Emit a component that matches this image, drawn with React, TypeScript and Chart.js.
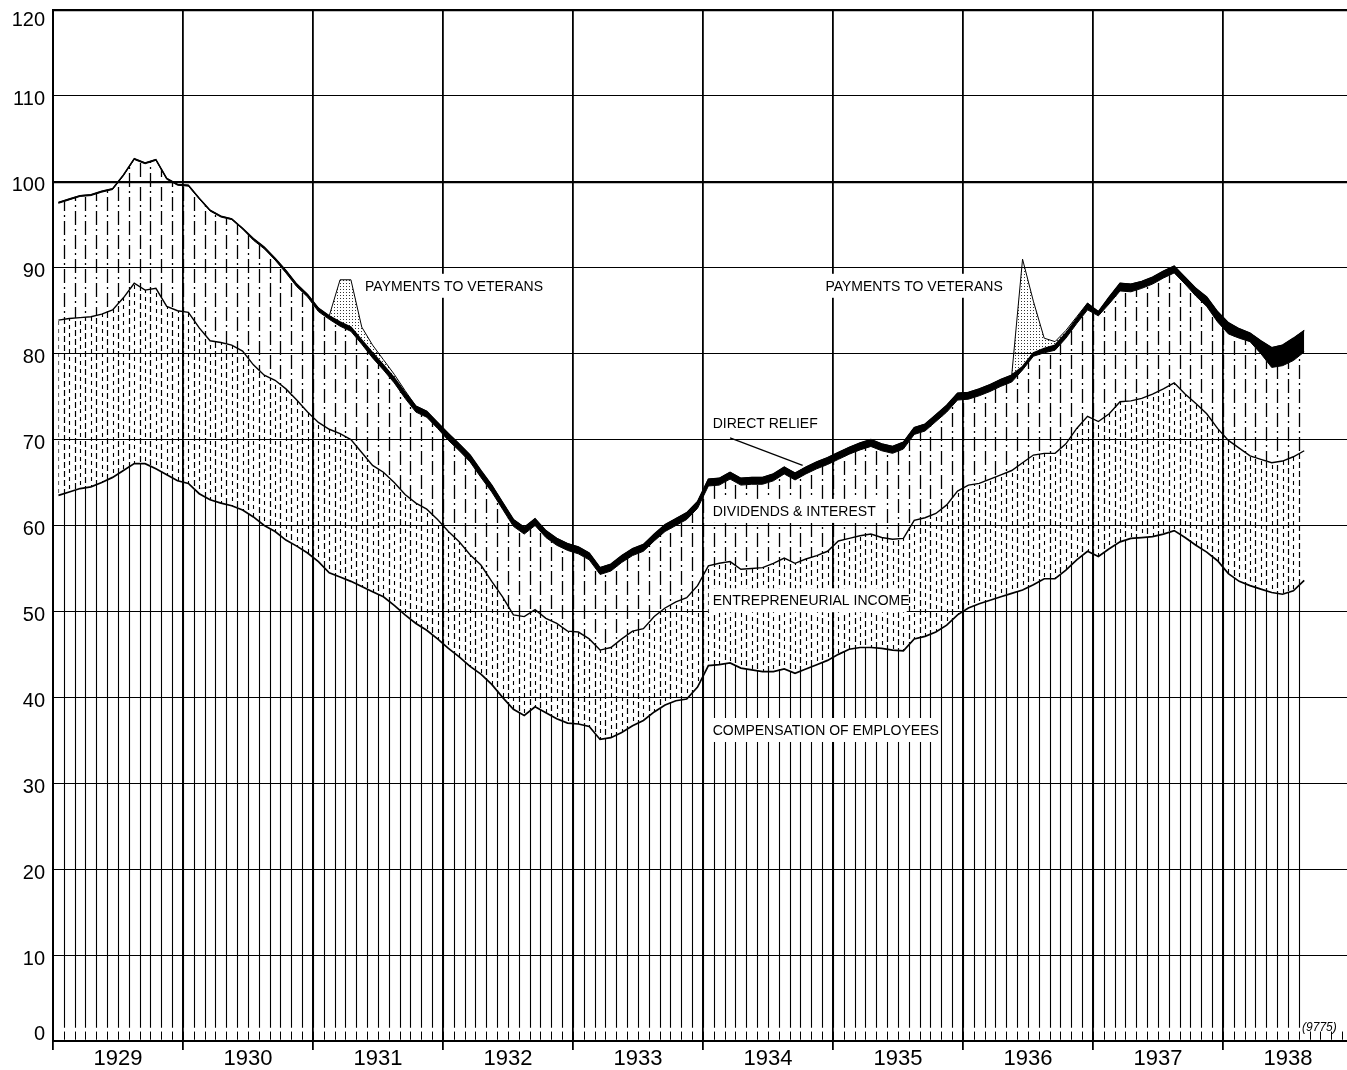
import React, { useEffect, useRef } from "react";
import { Chart, registerables } from "chart.js";

Chart.register(...registerables);

// Monthly values, Jan 1929 .. Aug 1938 (116 months)
const years = ["1929", "1930", "1931", "1932", "1933", "1934", "1935", "1936", "1937", "1938"];
const yTicks = [0, 10, 20, 30, 40, 50, 60, 70, 80, 90, 100, 110, 120];

const compensation = [
  63.5, 63.9, 64.3, 64.5, 65.0, 65.6, 66.4, 67.2, 67.2, 66.6, 65.9, 65.2,
  64.9, 63.7, 63.0, 62.6, 62.3, 61.8, 61.0, 60.0, 59.3, 58.3, 57.6, 56.8,
  55.8, 54.5, 54.0, 53.5, 52.9, 52.3, 51.7, 50.7, 49.6, 48.6, 47.8, 46.8,
  45.7, 44.7, 43.6, 42.7, 41.5, 40.0, 38.6, 37.9, 38.9, 38.2, 37.5, 37.0,
  36.9, 36.6, 35.1, 35.3, 35.9, 36.7, 37.3, 38.3, 39.1, 39.6, 39.8, 41.2,
  43.7, 43.8, 44.0, 43.4, 43.2, 43.0, 43.0, 43.3, 42.8, 43.3, 43.8, 44.3,
  45.0, 45.6, 45.8, 45.8, 45.7, 45.5, 45.4, 46.8, 47.1, 47.6, 48.4, 49.6,
  50.4, 50.9, 51.3, 51.7, 52.1, 52.5, 53.1, 53.8, 53.8, 54.8, 56.0, 57.0,
  56.4, 57.3, 58.1, 58.5, 58.6, 58.7, 59.0, 59.4, 58.6, 57.7, 56.9, 55.9,
  54.4, 53.5, 53.0, 52.6, 52.2, 52.0, 52.4, 53.6,
];

const entrepreneurial = [
  20.4, 20.2, 19.9, 19.8, 19.6, 19.5, 20.1, 21.0, 20.2, 21.0, 19.6, 19.8,
  19.9, 19.3, 18.5, 18.7, 18.7, 18.5, 17.7, 17.5, 17.6, 17.6, 17.0, 16.4,
  16.2, 16.7, 16.7, 16.5, 15.6, 14.7, 14.5, 14.3, 14.0, 14.0, 14.1, 13.9,
  13.6, 13.4, 13.0, 12.7, 12.0, 11.7, 11.0, 11.5, 11.3, 11.0, 11.1, 10.7,
  10.7, 10.2, 10.4, 10.5, 10.9, 11.0, 10.7, 11.1, 11.3, 11.5, 11.8, 11.8,
  11.6, 11.8, 11.8, 11.5, 11.8, 12.1, 12.6, 12.9, 12.8, 12.8, 12.7, 12.7,
  13.2, 12.9, 13.0, 13.2, 12.9, 12.9, 13.1, 13.8, 13.8, 13.8, 14.0, 14.4,
  14.3, 14.0, 14.1, 14.2, 14.3, 14.8, 15.1, 14.6, 14.6, 14.7, 15.3, 15.7,
  15.7, 15.7, 16.3, 16.0, 16.2, 16.6, 16.9, 17.2, 16.7, 16.5, 16.1, 15.4,
  15.5, 15.5, 15.1, 15.1, 15.1, 15.5, 15.6, 15.1,
];

const dividendsInterest = [
  13.6, 13.8, 14.1, 14.1, 14.2, 14.0, 14.2, 14.4, 14.7, 14.9, 14.8, 14.6,
  14.7, 15.0, 15.1, 14.6, 14.6, 14.2, 14.5, 14.7, 14.0, 13.5, 13.2, 13.4,
  12.9, 12.8, 12.5, 12.6, 12.6, 12.5, 11.9, 11.6, 11.2, 10.6, 10.7, 10.6,
  10.6, 10.6, 10.8, 10.2, 10.4, 10.2, 10.3, 9.6, 9.8, 9.4, 9.1, 9.4,
  9.1, 9.2, 8.8, 8.9, 8.9, 8.8, 9.0, 8.8, 8.9, 8.9, 9.1, 9.0,
  9.3, 9.1, 9.6, 9.8, 9.8, 9.7, 9.6, 9.8, 9.7, 9.9, 10.1, 10.1,
  9.5, 9.8, 10.0, 10.2, 10.1, 10.0, 10.4, 10.0, 10.1, 10.7, 10.8, 10.6,
  10.0, 10.2, 10.2, 10.3, 10.3, 10.8, 11.5, 11.7, 12.0, 12.3, 12.2, 12.4,
  12.3, 12.8, 12.9, 12.7, 12.8, 12.8, 12.9, 12.8, 12.8, 12.5, 12.5, 12.4,
  12.4, 12.8, 13.3, 12.3, 11.1, 11.1, 11.2, 11.5,
];

const directRelief = [
  0.1, 0.1, 0.1, 0.1, 0.1, 0.1, 0.1, 0.1, 0.1, 0.1, 0.1, 0.1,
  0.1, 0.1, 0.1, 0.1, 0.1, 0.1, 0.2, 0.2, 0.2, 0.3, 0.3, 0.3,
  0.4, 0.4, 0.5, 0.5, 0.5, 0.6, 0.6, 0.6, 0.7, 0.7, 0.7, 0.7,
  0.8, 0.8, 0.8, 0.8, 0.8, 0.8, 0.8, 0.8, 0.8, 0.8, 0.8, 0.8,
  0.8, 0.8, 0.8, 0.8, 0.8, 0.8, 0.8, 0.8, 0.8, 0.8, 0.8, 0.8,
  0.8, 0.8, 0.8, 0.8, 0.8, 0.8, 0.8, 0.8, 0.8, 0.8, 0.8, 0.8,
  0.8, 0.8, 0.8, 0.8, 0.8, 0.8, 0.8, 0.8, 0.8, 0.8, 0.8, 0.8,
  0.8, 0.8, 0.8, 0.8, 0.8, 0.4, 0.4, 0.5, 0.6, 0.6, 0.6, 0.7,
  0.5, 0.8, 0.9, 0.9, 0.8, 0.8, 0.8, 0.8, 0.8, 0.9, 1.1, 1.2,
  1.3, 1.1, 1.0, 1.5, 2.3, 2.4, 2.6, 2.5,
];

const veteransPayments = [
  0, 0, 0, 0, 0, 0, 0, 0, 0, 0, 0, 0,
  0, 0, 0, 0, 0, 0, 0, 0, 0, 0, 0, 0,
  0, 0, 4.9, 5.5, 1.5, 0.9, 0.6, 0.4, 0.2, 0, 0, 0,
  0, 0, 0, 0, 0, 0, 0, 0, 0, 0, 0, 0,
  0, 0, 0, 0, 0, 0, 0, 0, 0, 0, 0, 0,
  0, 0, 0, 0, 0, 0, 0, 0, 0, 0, 0, 0,
  0, 0, 0, 0, 0, 0, 0, 0, 0, 0, 0, 0,
  0, 0, 0, 0, 0, 12.5, 6.0, 1.2, 0.4, 0.3, 0.2, 0.1,
  0, 0, 0, 0, 0, 0, 0, 0, 0, 0, 0, 0,
  0, 0, 0, 0, 0, 0, 0, 0,
];

const FONT = '"Liberation Sans", "DejaVu Sans", sans-serif';

const notes = [
  { text: "PAYMENTS TO VETERANS", month: 28.8, value: 87.9, width: 178 },
  { text: "PAYMENTS TO VETERANS", month: 71.3, value: 87.9, width: 177 },
  { text: "DIRECT RELIEF", month: 60.9, value: 71.9, width: 103 },
  { text: "DIVIDENDS & INTEREST", month: 60.9, value: 61.7, width: 163 },
  { text: "ENTREPRENEURIAL INCOME", month: 60.9, value: 51.3, width: 190 },
  { text: "COMPENSATION OF EMPLOYEES", month: 60.9, value: 36.2, width: 220 },
];

function cumulate(series: number[][]): number[][] {
  const out: number[][] = [];
  series.forEach((s, k) => {
    out.push(s.map((v, i) => +(v + (k > 0 ? out[k - 1][i] : 0)).toFixed(2)));
  });
  return out;
}

const hatchPlugin = {
  id: "hatch",
  beforeDatasetsDraw(chart: any) {
    const { ctx, chartArea, scales } = chart;
    const xs = scales.x;
    const ys = scales.y;
    const n = compensation.length;
    const pts = (i: number) => chart.getDatasetMeta(i).data as any[];
    const base = ys.getPixelForValue(0);

    const band = (upper: any[], lower: any[] | null) => {
      ctx.beginPath();
      ctx.moveTo(upper[0].x, upper[0].y);
      for (let j = 1; j < upper.length; j++) ctx.lineTo(upper[j].x, upper[j].y);
      if (lower) {
        for (let j = lower.length - 1; j >= 0; j--) ctx.lineTo(lower[j].x, lower[j].y);
      } else {
        ctx.lineTo(upper[upper.length - 1].x, base);
        ctx.lineTo(upper[0].x, base);
      }
      ctx.closePath();
    };
    const vline = (x: number, y0: number, y1: number) => {
      const px = Math.round(x) + 0.5;
      ctx.beginPath();
      ctx.moveTo(px, y0);
      ctx.lineTo(px, y1);
      ctx.stroke();
    };

    ctx.save();
    ctx.strokeStyle = "#000";

    // bottom month ticks
    ctx.lineWidth = 1;
    for (let k = 1; k < 120; k++) {
      const x = xs.getPixelForValue(k);
      if (x > chartArea.right) break;
      vline(x, ys.getPixelForValue(0.15), ys.getPixelForValue(1.1));
    }

    // compensation: solid lines
    ctx.save();
    band(pts(0), null);
    ctx.clip();
    ctx.lineWidth = 1.1;
    for (let k = 1; k < n; k++) {
      vline(xs.getPixelForValue(k), ys.getPixelForValue(1.55), chartArea.top);
    }
    ctx.restore();

    // entrepreneurial: short dashes, two columns per month
    ctx.save();
    band(pts(1), pts(0));
    ctx.clip();
    for (let k = 1; k < n; k++) {
      ctx.lineWidth = 1.2;
      ctx.setLineDash([6, 3]);
      ctx.lineDashOffset = (k % 3) * 3;
      vline(xs.getPixelForValue(k), chartArea.bottom, chartArea.top);
      ctx.lineWidth = 1.1;
      ctx.setLineDash([4, 4]);
      ctx.lineDashOffset = (k % 2) * 4;
      vline(xs.getPixelForValue(k - 0.5), chartArea.bottom, chartArea.top);
    }
    ctx.restore();

    // dividends & interest: long dash-dot
    ctx.save();
    band(pts(2), pts(1));
    ctx.clip();
    ctx.lineWidth = 1.3;
    for (let k = 1; k < n; k++) {
      ctx.setLineDash([14, 4, 2, 4]);
      ctx.lineDashOffset = (k % 2) * 10;
      vline(xs.getPixelForValue(k), chartArea.bottom, chartArea.top);
    }
    ctx.restore();

    ctx.restore();
  },
};

const textPlugin = {
  id: "texts",
  afterDatasetsDraw(chart: any) {
    const { ctx, scales } = chart;
    const xs = scales.x;
    const ys = scales.y;
    ctx.save();
    ctx.fillStyle = "#000";
    ctx.textBaseline = "middle";
    ctx.textAlign = "left";
    ctx.font = `14px ${FONT}`;
    notes.forEach((nt) => {
      const x = xs.getPixelForValue(nt.month);
      const y = ys.getPixelForValue(nt.value);
      (ctx as any).letterSpacing = "0px";
      const w0 = ctx.measureText(nt.text).width;
      const sp = Math.max(0, (nt.width - w0) / (nt.text.length - 1));
      ctx.fillStyle = "#fff";
      ctx.fillRect(x - 4, y - 12, nt.width + 8, 24);
      ctx.fillStyle = "#000";
      (ctx as any).letterSpacing = `${sp}px`;
      ctx.fillText(nt.text, x, y + 1);
    });
    (ctx as any).letterSpacing = "0px";

    // arrow for direct relief
    ctx.strokeStyle = "#000";
    ctx.lineWidth = 1.2;
    ctx.beginPath();
    ctx.moveTo(xs.getPixelForValue(62.5), ys.getPixelForValue(70.2));
    ctx.lineTo(xs.getPixelForValue(69.2), ys.getPixelForValue(67.0));
    ctx.stroke();

    ctx.font = `italic 12px ${FONT}`;
    ctx.fillText("(9775)", xs.getPixelForValue(115.3), ys.getPixelForValue(1.6));
    ctx.restore();
  },
  afterDraw(chart: any) {
    const { ctx, scales } = chart;
    const xs = scales.x;
    const ys = scales.y;
    ctx.save();
    ctx.fillStyle = "#000";
    ctx.textBaseline = "middle";
    ctx.textAlign = "right";
    ctx.font = `20px ${FONT}`;
    yTicks.forEach((v) => {
      const off = v === 120 ? 10 : v === 0 ? -7 : 4;
      ctx.fillText(String(v), 45, ys.getPixelForValue(v) + off);
    });
    ctx.textAlign = "center";
    ctx.font = `22px ${FONT}`;
    years.forEach((yr, i) => {
      ctx.fillText(yr, xs.getPixelForValue(i * 12 + 6), 1059);
    });
    ctx.restore();
  },
};

export default function App() {
  const ref = useRef<HTMLCanvasElement>(null);

  useEffect(() => {
    const canvas = ref.current;
    if (!canvas) return;
    const pc = document.createElement("canvas");
    pc.width = 3;
    pc.height = 3;
    const pctx = pc.getContext("2d")!;
    pctx.fillStyle = "#333";
    pctx.fillRect(1, 1, 1, 1);
    const stipple = canvas.getContext("2d")!.createPattern(pc, "repeat");

    const cum = cumulate([compensation, entrepreneurial, dividendsInterest, directRelief, veteransPayments]);
    const toPts = (arr: number[]) => arr.map((v, i) => ({ x: i + 0.5, y: v }));
    const names = ["Compensation of employees", "Entrepreneurial income", "Dividends & interest", "Direct relief", "Payments to veterans"];
    const widths = [1.7, 1.4, 1.0, 1.4, 1.0];

    const datasets: any[] = cum.map((arr, k) => ({
      label: names[k],
      data: toPts(arr),
      borderColor: "#000",
      borderWidth: widths[k],
      pointRadius: 0,
      tension: 0,
      fill: k === 3 ? { target: "-1" } : k === 4 ? { target: "-1" } : false,
      backgroundColor: k === 3 ? "#000" : k === 4 ? stipple : "transparent",
    }));

    const chart = new Chart(canvas, {
      type: "line",
      data: { datasets },
      options: {
        animation: false,
        responsive: false,
        devicePixelRatio: 1,
        layout: { padding: { top: 10, left: 0, right: 0, bottom: 0 } },
        plugins: {
          legend: { display: false },
          tooltip: { enabled: false },
          filler: { propagate: false },
        },
        scales: {
          x: {
            type: "linear",
            min: 0,
            max: 119.45,
            afterBuildTicks: (s: any) => {
              s.ticks = years.map((_, i) => ({ value: i * 12 }));
            },
            afterFit: (s: any) => {
              s.height = 29;
            },
            ticks: { display: false },
            grid: {
              color: "#000",
              lineWidth: 1.8,
              drawTicks: true,
              tickLength: 9,
              tickWidth: 1.8,
              tickColor: "#000",
            },
            border: { display: true, color: "#000", width: 2 },
          },
          y: {
            type: "linear",
            min: 0,
            max: 120,
            ticks: { stepSize: 10, display: false },
            afterFit: (s: any) => {
              s.width = 53;
            },
            grid: {
              color: "#000",
              lineWidth: (c: any) => (c.tick && (c.tick.value === 100 || c.tick.value === 120) ? 2.2 : 1.1),
              drawTicks: false,
            },
            border: { display: true, color: "#000", width: 2 },
          },
        },
      } as any,
      plugins: [hatchPlugin, textPlugin],
    });
    return () => chart.destroy();
  }, []);

  return (
    <div style={{ position: "absolute", left: 0, top: 0, width: 1347, height: 1070, background: "#fff" }}>
      <canvas ref={ref} width={1347} height={1070} style={{ display: "block", width: 1347, height: 1070 }} />
    </div>
  );
}
